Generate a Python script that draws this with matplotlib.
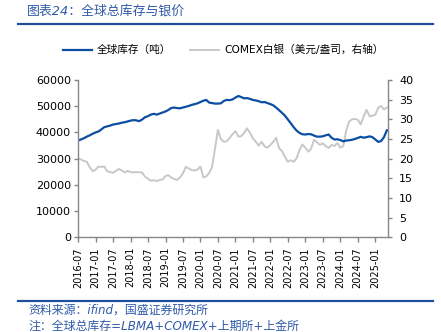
import matplotlib
matplotlib.use('Agg')
import matplotlib.pyplot as plt
import matplotlib.dates as mdates
import pandas as pd
from matplotlib.lines import Line2D

plt.rcParams['font.family'] = ['DejaVu Sans', 'Noto Sans CJK SC']

# ---- data (monthly, 2016-07 .. 2025-05) ----
months = pd.date_range('2016-07-01', periods=107, freq='MS')

inventory = [
    36900, 37300, 37800, 38400, 38900, 39500, 40000, 40400, 41100, 42000,
    42300, 42600, 43000, 43200, 43400, 43700, 43900, 44200, 44500, 44700,
    44600, 44300, 44900, 45800, 46200, 46800, 47100, 46800, 47200, 47600,
    48000, 48600, 49300, 49500, 49300, 49200, 49500, 49800, 50100, 50500,
    50800, 51100, 51600, 52100, 52400, 51400, 51200, 51000, 51000, 51100,
    52000, 52400, 52300, 52600, 53300, 53900, 53500, 53000, 53100, 52800,
    52400, 52200, 51900, 51500, 51600, 51200, 50800, 50300, 49500, 48500,
    47500, 46400, 45000, 43500, 42000, 40700, 39800, 39300, 39200, 39400,
    39300, 38800, 38400, 38400, 38500, 38900, 39200, 38000, 37300, 37400,
    37100, 36600, 36900, 37000, 37200, 37500, 37900, 38300, 38000, 38200,
    38500, 38200, 37300, 36400, 36700, 38200, 40800,
]

silver = [
    20.1, 19.8, 19.4, 19.2, 17.8, 16.8, 17.2, 18.0, 17.9, 18.0,
    16.8, 16.6, 16.4, 16.9, 17.4, 17.0, 16.5, 16.9, 16.6, 16.5,
    16.6, 16.5, 16.5, 15.4, 14.9, 14.4, 14.5, 14.3, 14.6, 14.7,
    15.6, 15.8, 15.2, 14.8, 14.6, 15.2, 16.2, 17.9, 17.5, 17.1,
    17.0, 17.2, 18.0, 15.2, 15.5, 16.3, 17.9, 22.5, 27.3, 25.0,
    24.3, 24.4, 25.3, 26.2, 27.0, 25.6, 25.7, 26.5, 27.7, 26.6,
    25.2, 24.3, 23.3, 24.3, 23.1, 22.8, 23.5, 24.3, 25.3, 22.7,
    21.9, 20.5, 19.2, 19.6, 19.2, 20.1, 22.2, 23.6, 22.8, 21.8,
    22.5, 24.8, 24.2, 23.5, 23.9, 23.2, 22.7, 23.5, 23.2, 24.0,
    22.8, 23.2, 27.0, 29.4, 30.0, 30.1, 29.9, 28.7, 30.8, 32.4,
    30.8, 30.9, 31.2, 33.0, 33.4, 32.5, 33.0,
]

tick_dates = pd.date_range('2016-07-01', '2025-01-01', freq='6MS')
left_ticks = [0, 10000, 20000, 30000, 40000, 50000, 60000]
right_ticks = [0, 5, 10, 15, 20, 25, 30, 35, 40]

label_inv = '全球库存（吨）'
label_ag = 'COMEX白银（美元/盎司，右轴）'
title = '图表24：全球总库存与银价'
source = '资料来源：ifind，国盛证券研究所'
note = '注：全球总库存=LBMA+COMEX+上期所+上金所'

BLUE = '#0B4EA2'
GREY = '#C8C8C8'
TXTBLUE = '#2F5AA8'
SPINE = '#868686'

W, H = 441, 332
fig = plt.figure(figsize=(W / 100, H / 100), dpi=100)

ax = fig.add_axes([78 / W, 1 - 237.3 / H, (388 - 78) / W, (237.3 - 80) / H])
ax2 = ax.twinx()

ax.plot(months, inventory, color=BLUE, lw=1.6, solid_joinstyle='round')
ax2.plot(months, silver, color=GREY, lw=1.4, solid_joinstyle='round')
ax.set_zorder(ax2.get_zorder() + 1)
ax.patch.set_visible(False)

ax.set_xlim(months[0], pd.Timestamp('2025-05-13'))
ax.set_ylim(0, 60000)
ax2.set_ylim(0, 40)
ax.set_yticks(left_ticks)
ax2.set_yticks(right_ticks)
ax.set_xticks(tick_dates)
ax.xaxis.set_major_formatter(mdates.DateFormatter('%Y-%m'))
plt.setp(ax.get_xticklabels(), rotation=90)

for a in (ax, ax2):
    a.spines['top'].set_visible(False)
    for s in ('left', 'right', 'bottom'):
        a.spines[s].set_color(SPINE)
        a.spines[s].set_linewidth(1.0)
ax.spines['right'].set_visible(False)
ax2.spines['left'].set_visible(False)
ax2.spines['bottom'].set_visible(False)

ax.tick_params(axis='y', length=3, width=1, color=SPINE, labelsize=8, pad=2)
ax.tick_params(axis='x', length=3.5, width=1, color=SPINE, labelsize=7, pad=3.5)
ax2.tick_params(axis='y', length=3, width=1, color=SPINE, labelsize=8, pad=5)

# legend
handles = [Line2D([], [], color=BLUE, lw=1.6), Line2D([], [], color=GREY, lw=1.4)]
fig.legend(handles, [label_inv, label_ag], loc='center left',
           bbox_to_anchor=(63 / W, 1 - 50 / H), ncol=2, frameon=False,
           fontsize=7.7, handlelength=2.7, handletextpad=0.45,
           columnspacing=1.8, borderpad=0, borderaxespad=0)

# title, rules, footer
fig.text(27 / W, 1 - 11.5 / H, title, color=TXTBLUE, fontsize=9.3,
         style='italic', ha='left', va='center')
fig.add_artist(Line2D([18 / W, 433 / W], [1 - 24.3 / H] * 2,
                      color='#1F4E9B', lw=1.6, transform=fig.transFigure))
fig.add_artist(Line2D([18 / W, 433 / W], [1 - 301 / H] * 2,
                      color='#1F4E9B', lw=1.6, transform=fig.transFigure))
fig.text(28 / W, 1 - 310.5 / H, source, color=TXTBLUE, fontsize=8.6,
         style='italic', ha='left', va='center')
fig.text(28 / W, 1 - 326.5 / H, note, color=TXTBLUE, fontsize=8.6,
         style='italic', ha='left', va='center')

fig.savefig('out.png', dpi=100)
